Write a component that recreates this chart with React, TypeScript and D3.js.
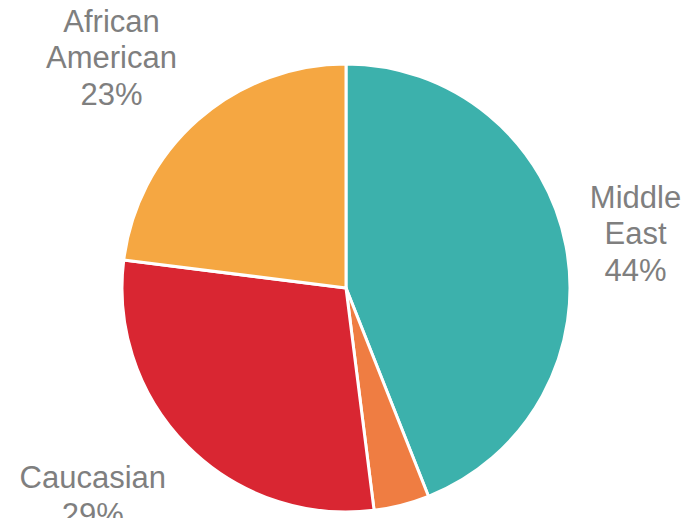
import React from "react";
import * as d3 from "d3";

const categories = ["Middle East", "Other", "Caucasian", "African American"];
const nameLines = [["Middle", "East"], ["Other"], ["Caucasian"], ["African", "American"]];
const values = [44, 4, 29, 23];
const colors = ["#3cb1ac", "#ef7d42", "#d92632", "#f5a742"];
const showLabel = [true, false, true, true];

const W = 700;
const H = 518;
const CX = 346;
const CY = 288;
const R = 224;
const LABEL_R = 310;
const labelOffsets: [number, number][] = [[-15, 3], [0, 0], [-34, -12], [-29.5, 1.5]];
const FONT = 31;
const LINE = 36.5;

export default function App() {
  const total = d3.sum(values);
  const pie = d3.pie<number>().sort(null).value((d) => d)(values);
  const arc = d3.arc<d3.PieArcDatum<number>>().innerRadius(0).outerRadius(R);
  const labelArc = d3.arc<d3.PieArcDatum<number>>().innerRadius(LABEL_R).outerRadius(LABEL_R);

  return (
    <svg width={W} height={H} style={{ position: "absolute", left: 0, top: 0 }}>
      <rect width={W} height={H} fill="#ffffff" />
      <g transform={`translate(${CX},${CY})`}>
        {pie.map((p, i) => (
          <path key={i} d={arc(p) || ""} fill={colors[i]} stroke="#ffffff" strokeWidth={3} strokeLinejoin="round">
            <title>{categories[i]}</title>
          </path>
        ))}
        {pie.map((p, i) => {
          if (!showLabel[i]) return null;
          const [x, y] = labelArc.centroid(p);
          const lines = [...nameLines[i], `${Math.round((values[i] / total) * 100)}%`];
          const cx = x + labelOffsets[i][0];
          const cy = y + labelOffsets[i][1];
          const firstBaseline = cy - ((lines.length - 1) * LINE) / 2 + FONT * 0.36;
          return (
            <text
              key={`l${i}`}
              x={cx}
              y={firstBaseline}
              textAnchor="middle"
              fontFamily="'Liberation Sans', Arial, sans-serif"
              fontSize={FONT}
              fill="#7f7f7f"
            >
              {lines.map((ln, j) => (
                <tspan key={j} x={cx} y={firstBaseline + j * LINE}>
                  {ln}
                </tspan>
              ))}
            </text>
          );
        })}
      </g>
    </svg>
  );
}
